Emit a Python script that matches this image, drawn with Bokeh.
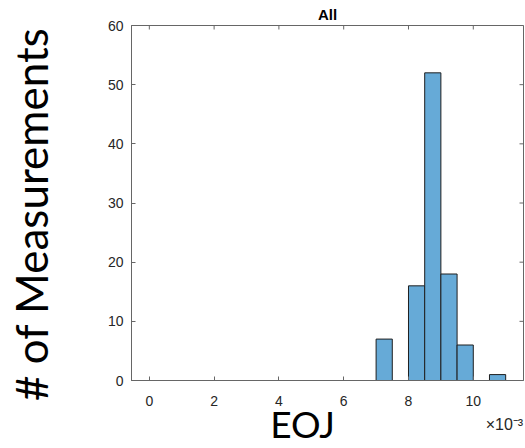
import math
from bokeh.plotting import figure
from bokeh.models import Range1d, FixedTicker, LinearAxis
from bokeh.embed import file_html
from bokeh.resources import INLINE

# Histogram data (EOJ in units of 1e-3)
bin_left = [7.0, 7.5, 8.0, 8.5, 9.0, 9.5, 10.0, 10.5]
bin_right = [7.5, 8.0, 8.5, 9.0, 9.5, 10.0, 10.5, 11.0]
counts = [7, 0, 16, 52, 18, 6, 0, 1]

x_ticks = [0, 2, 4, 6, 8, 10]
y_ticks = [0, 10, 20, 30, 40, 50, 60]
x_lim = (-0.55, 11.55)
y_lim = (0, 60)

title_text = "All"
x_label = "EOJ"
y_label = "# of Measurements"
exp_label = "×10⁻³"

# where the label texts sit along the x axis (layout, in axis units)
x_label_at = 4.73
exp_label_at = 10.96

AX = "#666666"
TXT = "#262626"

p = figure(width=525, height=448, output_backend="svg", toolbar_location=None,
           x_range=Range1d(*x_lim), y_range=Range1d(*y_lim),
           min_border_left=131, min_border_right=2, min_border_top=25, min_border_bottom=68,
           title=title_text)
p.title.align = "center"
p.title.text_font = "Liberation Sans"
p.title.text_font_size = "15px"
p.title.text_font_style = "bold"
p.title.text_color = "#000000"
p.title.standoff = 6
p.title.offset = 0

p.quad(left=bin_left, right=bin_right, top=counts, bottom=0,
       fill_color="#66AAD7", line_color="#1f1f1f", line_width=1)

# inward ticks on the top and right edges of the box (MATLAB "box on")
p.scatter(x=x_ticks, y=[y_lim[1]] * len(x_ticks), marker="dash", angle=math.pi / 2,
          size=8, line_color=AX, line_width=1)
p.scatter(x=[x_lim[1]] * len(y_ticks), y=y_ticks, marker="dash",
          size=8, line_color=AX, line_width=1)

p.xgrid.visible = False
p.ygrid.visible = False
p.outline_line_color = AX
p.background_fill_color = "white"
p.border_fill_color = "white"

for ax in (p.xaxis[0], p.yaxis[0]):
    ax.axis_line_color = AX
    ax.major_tick_line_color = AX
    ax.major_tick_in = 4
    ax.major_tick_out = 0
    ax.minor_tick_line_color = None
    ax.major_label_text_font = "Liberation Sans"
    ax.major_label_text_font_size = "14px"
    ax.major_label_text_color = TXT

p.xaxis[0].ticker = FixedTicker(ticks=x_ticks)
p.yaxis[0].ticker = FixedTicker(ticks=y_ticks)
p.xaxis[0].major_label_standoff = 15
p.yaxis[0].major_label_standoff = 8

ya = p.yaxis[0]
ya.axis_label = y_label + "  "
ya.axis_label_text_font = "Lato"
ya.axis_label_text_font_size = "44px"
ya.axis_label_text_font_style = "normal"
ya.axis_label_text_color = "#000000"
ya.axis_label_standoff = 48


def text_axis(tick, text, size, font, color, standoff):
    a = LinearAxis(ticker=FixedTicker(ticks=[tick]), major_label_overrides={tick: text})
    a.axis_line_color = None
    a.major_tick_line_color = None
    a.minor_tick_line_color = None
    a.major_tick_in = 0
    a.major_tick_out = 0
    a.major_label_text_font = font
    a.major_label_text_font_size = size
    a.major_label_text_color = color
    a.major_label_standoff = standoff
    return a


p.add_layout(text_axis(x_label_at, x_label, "37px", "Lato", "#000000", -8), "below")
p.add_layout(text_axis(exp_label_at, exp_label, "16px", "Liberation Sans", TXT, -33), "below")

open("out.html", "w").write(file_html(p, INLINE))
